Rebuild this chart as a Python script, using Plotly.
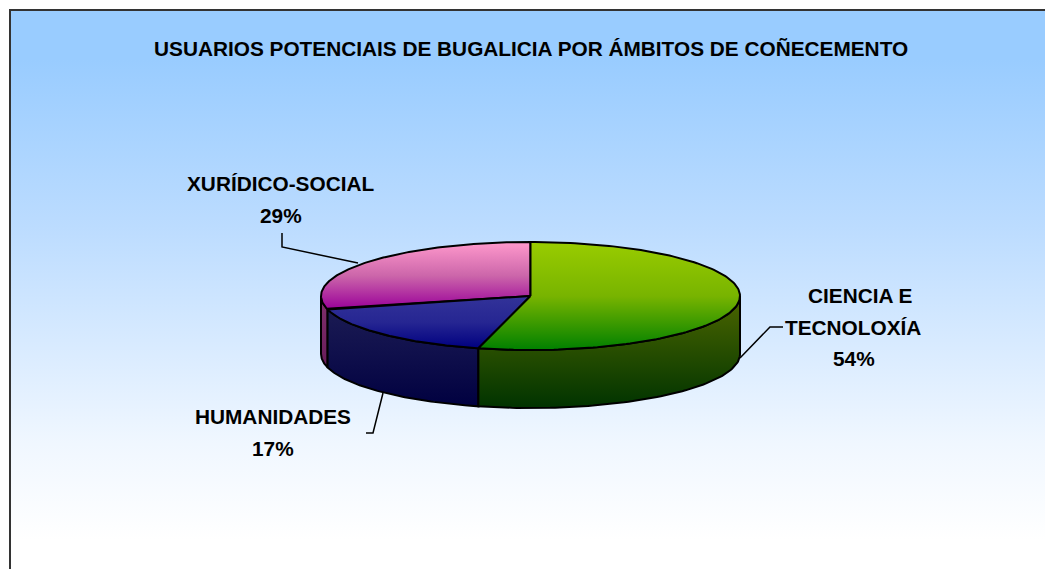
import numpy as np
import plotly.graph_objects as go

# Data
categories = ["CIENCIA E TECNOLOXÍA", "HUMANIDADES", "XURÍDICO-SOCIAL"]
values = [54, 17, 29]
top_colors = [["#99cc00", "#78b400", "#008000"], ["#333399", "#262692", "#000080"], ["#ff99cc", "#cc66aa", "#990099"]]
wall_colors = [["#4d6600", "#264d00", "#003300"], ["#1e1e55", "#10104c", "#000040"], ["#80306c", "#6d205e", "#5a1050"]]

# Pie geometry in page pixels
W, H = 1045, 569
CX, CY, RX, RY, DEPTH = 530.5, 296, 209.5, 54, 58
FONT = "Liberation Sans"
FS = 20.8


def pt(t, dy=0):
    t = np.radians(t)
    return CX + RX * np.sin(t), CY - RY * np.cos(t) + dy


def poly(x, y, colors, name, start, stop):
    g = dict(type="vertical", start=start, stop=stop,
             colorscale=[[k / (len(colors) - 1), c] for k, c in enumerate(colors)])
    return go.Scatter(x=x, y=y, mode="lines", fill="toself", name=name, fillgradient=g,
                      line=dict(color="#000000", width=2), hoverinfo="name", showlegend=False)


fig = go.Figure()

# background panel
fig.add_trace(go.Scatter(
    x=[10, W + 5, W + 5, 10, 10], y=[10, 10, H + 5, H + 5, 10], mode="lines", fill="toself",
    line=dict(width=0), hoverinfo="skip", showlegend=False,
    fillgradient=dict(type="vertical", start=60, stop=540,
                      colorscale=[[0, "#99ccff"], [0.35, "#bcdcff"], [0.8, "#f0f7ff"], [1, "#ffffff"]]),
))
fig.add_trace(go.Scatter(x=[10, 10, W + 5], y=[H + 5, 10, 10], mode="lines",
                         line=dict(color="#333333", width=2), hoverinfo="skip", showlegend=False))

edges = np.concatenate([[0], np.cumsum(values)]) * 3.6
spans = [(edges[i], edges[i + 1]) for i in range(len(values))]

# side walls: only the part of each slice on the front half of the ellipse
for i in [2, 1, 0]:
    a, b = max(spans[i][0], 90), min(spans[i][1], 270)
    if b <= a:
        continue
    t = np.linspace(a, b, 80)
    x0, y0 = pt(t)
    x1, y1 = pt(t[::-1], DEPTH)
    fig.add_trace(poly(np.r_[x0, x1, x0[0]], np.r_[y0, y1, y0[0]], wall_colors[i],
                       categories[i], CY, CY + RY + DEPTH))

# top faces
for i in [2, 1, 0]:
    a, b = spans[i]
    t = np.linspace(a, b, 160)
    x0, y0 = pt(t)
    xs, ys = np.r_[CX, x0, CX], np.r_[CY, y0, CY]
    fig.add_trace(poly(xs, ys, top_colors[i], categories[i], ys.min(), ys.max()))

# leader lines
leaders = [
    ([282, 282, 358], [233, 247, 263]),
    ([783, 770, 740], [327, 327, 358]),
    ([366, 373, 383], [433, 433, 393]),
]
for lx, ly in leaders:
    fig.add_trace(go.Scatter(x=lx, y=ly, mode="lines", line=dict(color="#000000", width=1.5),
                             hoverinfo="skip", showlegend=False))

labels = [
    ("USUARIOS POTENCIAIS DE BUGALICIA POR ÁMBITOS DE COÑECEMENTO", 531, 48.5),
    ("XURÍDICO-SOCIAL", 280, 183), (f"{values[2]}%", 281, 215),
    ("CIENCIA E", 860, 295), ("TECNOLOXÍA", 853, 327), (f"{values[0]}%", 854, 358),
    ("HUMANIDADES", 273, 416), (f"{values[1]}%", 273, 448),
]
annotations = [
    dict(x=x, y=y, text=f"<b>{s}</b>", showarrow=False, xanchor="center", yanchor="middle",
         font=dict(family=FONT, size=FS, color="#000000"))
    for s, x, y in labels
]

fig.update_layout(
    width=W, height=H, autosize=False, margin=dict(l=0, r=0, t=0, b=0),
    paper_bgcolor="#ffffff", plot_bgcolor="#ffffff", showlegend=False,
    xaxis=dict(range=[0, W], visible=False, fixedrange=True),
    yaxis=dict(range=[H, 0], visible=False, fixedrange=True),
    annotations=annotations,
)
fig.write_html("out.html", config={"displayModeBar": False},
               default_width=f"{W}px", default_height=f"{H}px",
               post_script="document.body.style.margin='0';document.body.style.overflow='hidden';")
